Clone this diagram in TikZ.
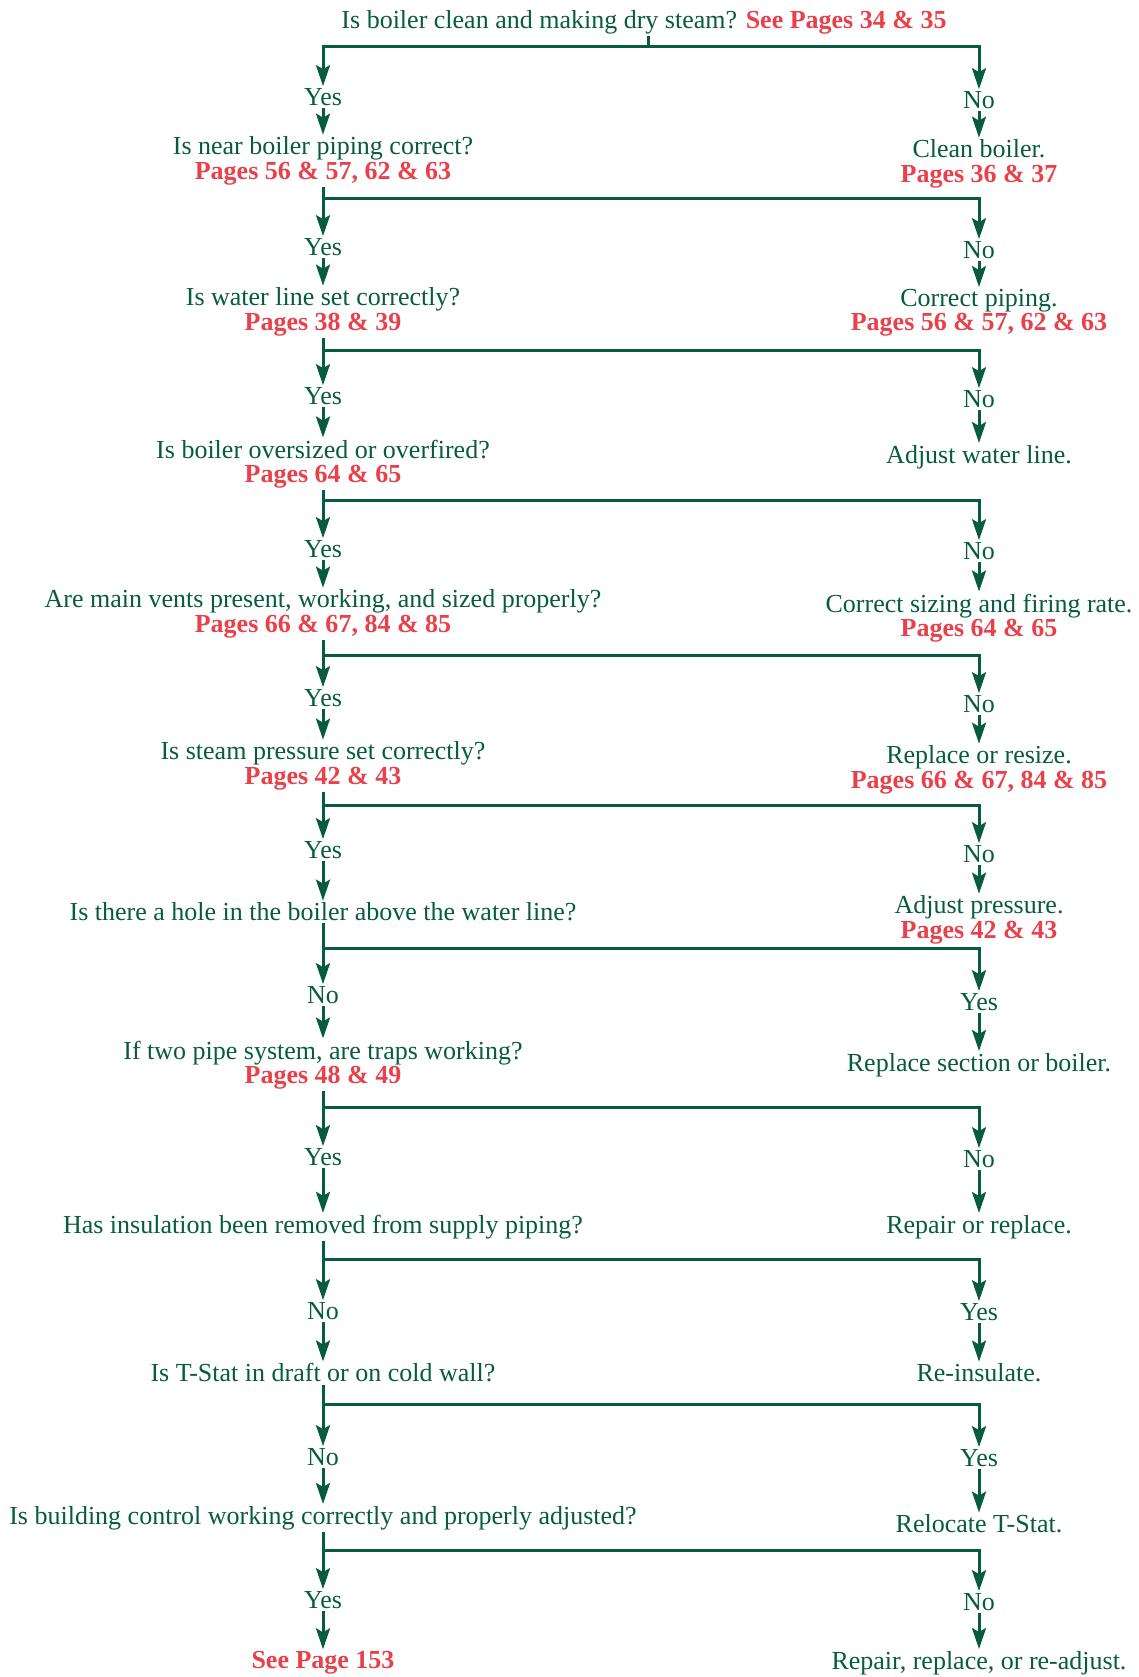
\documentclass[tikz,border=0pt]{standalone}
\usepackage{fontspec}
\setmainfont{Liberation Serif}
\usetikzlibrary{arrows.meta}
\definecolor{fgreen}{HTML}{075C3D}
\definecolor{fred}{HTML}{E8414B}
\newcommand{\pg}[1]{\textcolor{fred}{\bfseries #1}}

\begin{document}
\begin{tikzpicture}[x=1pt,y=-1pt,
  every node/.style={text=fgreen, font=\fontsize{26}{24.5}\selectfont, inner sep=2pt, align=center},
  wire/.style={draw=fgreen, line width=3pt},
  flow/.style={wire, -{Stealth[length=21pt,width=14pt,inset=4pt]}}]
\useasboundingbox (0,0) rectangle (1138,1677);

% question column x = 323, answer column x = 979
\node (q0) at (644,22) {Is boiler clean and making dry steam? \pg{See Pages 34 \& 35}};
\coordinate (j0) at (648,47);

\node (l1) at (323,97) {Yes};
\node (r1) at (979,100) {No};
\node (q1) at (323,161) {Is near boiler piping correct?\\\pg{Pages 56 \& 57, 62 \& 63}};
\node (a1) at (979,164) {Clean boiler.\\\pg{Pages 36 \& 37}};
\coordinate (j1) at (323,199);

\node (l2) at (323,247) {Yes};
\node (r2) at (979,250) {No};
\node (q2) at (323,312) {Is water line set correctly?\\\pg{Pages 38 \& 39}};
\node (a2) at (979,313) {Correct piping.\\\pg{Pages 56 \& 57, 62 \& 63}};
\coordinate (j2) at (323,350);

\node (l3) at (323,396) {Yes};
\node (r3) at (979,399) {No};
\node (q3) at (323,464) {Is boiler oversized or overfired?\\\pg{Pages 64 \& 65}};
\node (a3) at (979,457) {Adjust water line.};
\coordinate (j3) at (323,500);

\node (l4) at (323,549) {Yes};
\node (r4) at (979,551) {No};
\node (q4) at (323,614) {Are main vents present, working, and sized properly?\\\pg{Pages 66 \& 67, 84 \& 85}};
\node (a4) at (979,618) {Correct sizing and firing rate.\\\pg{Pages 64 \& 65}};
\coordinate (j4) at (323,655);

\node (l5) at (323,698) {Yes};
\node (r5) at (979,704) {No};
\node (q5) at (323,766) {Is steam pressure set correctly?\\\pg{Pages 42 \& 43}};
\node (a5) at (979,770) {Replace or resize.\\\pg{Pages 66 \& 67, 84 \& 85}};
\coordinate (j5) at (323,805);

\node (l6) at (323,850) {Yes};
\node (r6) at (979,854) {No};
\node (q6) at (323,912) {Is there a hole in the boiler above the water line?};
\node (a6) at (979,920) {Adjust pressure.\\\pg{Pages 42 \& 43}};
\coordinate (j6) at (323,948);

\node (l7) at (323,995) {No};
\node (r7) at (979,1002) {Yes};
\node (q7) at (323,1065) {If two pipe system, are traps working?\\\pg{Pages 48 \& 49}};
\node (a7) at (979,1065) {Replace section or boiler.};
\coordinate (j7) at (323,1107);

\node (l8) at (323,1157) {Yes};
\node (r8) at (979,1159) {No};
\node (q8) at (323,1227) {Has insulation been removed from supply piping?};
\node (a8) at (979,1227) {Repair or replace.};
\coordinate (j8) at (323,1259);

\node (l9) at (323,1311) {No};
\node (r9) at (979,1312) {Yes};
\node (q9) at (323,1373) {Is T-Stat in draft or on cold wall?};
\node (a9) at (979,1373) {Re-insulate.};
\coordinate (j9) at (323,1404);

\node (l10) at (323,1457) {No};
\node (r10) at (979,1458) {Yes};
\node (q10) at (323,1518) {Is building control working correctly and properly adjusted?};
\node (a10) at (979,1524) {Relocate T-Stat.};
\coordinate (j10) at (323,1550);

\node (l11) at (323,1600) {Yes};
\node (r11) at (979,1602) {No};
\node (q11) at (323,1663) {\pg{See Page 153}};
\node (a11) at (979,1663) {Repair, replace, or re-adjust.};

% top split
\draw[wire] (q0.south -| j0) -- (j0);
\draw[flow] (j0) -| (l1);
\draw[flow] (j0) -| (r1);
\draw[flow] (l1) -- (q1);
\draw[flow] (r1) -- (a1);

% remaining decisions
\foreach \i [count=\n from 2] in {1,...,10}{
  \draw[flow] (q\i) -- (l\n);
  \draw[flow] (j\i) -| (r\n);
  \draw[flow] (l\n) -- (q\n);
  \draw[flow] (r\n) -- (a\n);
}
\end{tikzpicture}
\end{document}
